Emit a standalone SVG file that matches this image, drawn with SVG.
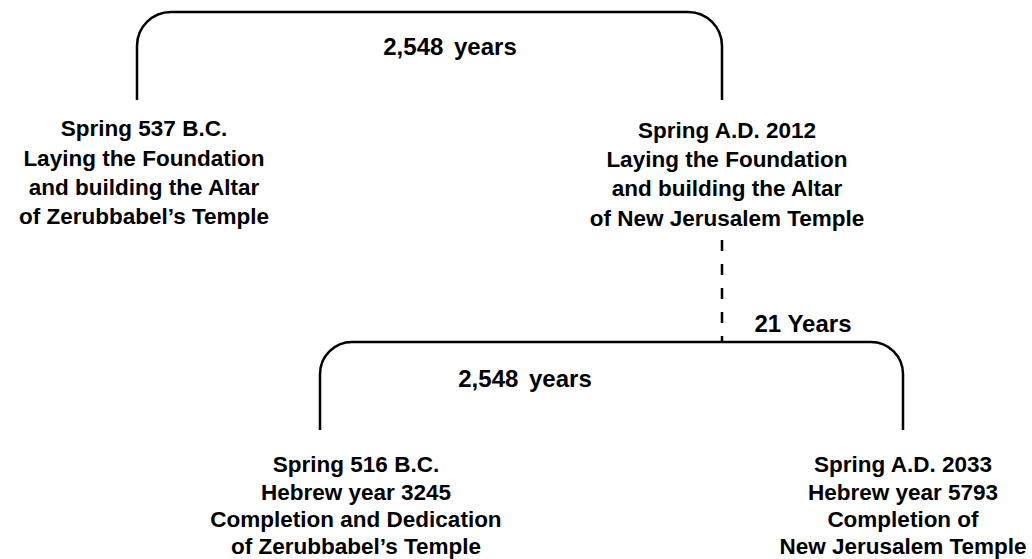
<svg xmlns="http://www.w3.org/2000/svg" width="1032" height="559" viewBox="0 0 1032 559">
<style>
text{font-family:"Liberation Sans",Arial,sans-serif;font-weight:bold;fill:#000;text-anchor:middle}
.n{font-size:22.5px}
.l{font-size:24px}
.w{word-spacing:4px}
.br{fill:none;stroke:#000;stroke-width:2.5}
.dash{fill:none;stroke:#000;stroke-width:2.5;stroke-dasharray:11 13}
</style>
<rect width="1032" height="559" fill="#fff"/>
<g id="connectors">
<path class="br" d="M137,100 V46 A34,34 0 0 1 171,12 H688 A34,34 0 0 1 722,46 V100"/>
<path class="dash" d="M722,240 V342"/>
<path class="br" d="M320,430 V374 A32,32 0 0 1 352,342 H871 A32,32 0 0 1 903,374 V430"/>
<text class="l w" x="450" y="55">2,548 years</text>
<text class="l" x="803" y="332">21 Years</text>
<text class="l w" x="525" y="387">2,548 years</text>
</g>
<g id="node-537bc">
<text class="n" x="144" y="136">Spring 537 B.C.</text>
<text class="n" x="144" y="166">Laying  the Foundation</text>
<text class="n" x="144" y="195">and building the Altar</text>
<text class="n" x="144" y="224">of Zerubbabel’s Temple</text>
</g>
<g id="node-2012">
<text class="n" x="727" y="138">Spring A.D. 2012</text>
<text class="n" x="727" y="167">Laying the Foundation</text>
<text class="n" x="727" y="196">and building the Altar</text>
<text class="n" x="727" y="226">of New Jerusalem Temple</text>
</g>
<g id="node-516bc">
<text class="n" x="356" y="472">Spring 516 B.C.</text>
<text class="n" x="356" y="500">Hebrew year 3245</text>
<text class="n" x="356" y="527">Completion and Dedication</text>
<text class="n" x="356" y="554">of Zerubbabel’s Temple</text>
</g>
<g id="node-2033">
<text class="n" x="903" y="472">Spring A.D. 2033</text>
<text class="n" x="903" y="500">Hebrew year 5793</text>
<text class="n" x="903" y="527">Completion of</text>
<text class="n" x="903" y="554">New Jerusalem Temple</text>
</g>
</svg>
